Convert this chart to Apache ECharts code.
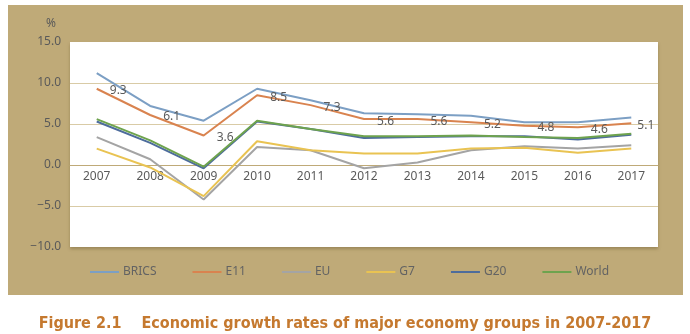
<!DOCTYPE html>
<html>
<head>
<meta charset="utf-8">
<script src="https://cdn.jsdelivr.net/npm/echarts@6/dist/echarts.min.js"></script>
<style>
  html, body { margin: 0; padding: 0; background: #ffffff; }
  #chart { width: 690px; height: 334px; }
</style>
</head>
<body>
<div id="chart"></div>
<script>
// Annual GDP growth (%) of major economy groups
const years = ['2007', '2008', '2009', '2010', '2011', '2012', '2013', '2014', '2015', '2016', '2017'];
const brics = [11.2, 7.2, 5.4, 9.3, 7.9, 6.3, 6.2, 6.0, 5.2, 5.2, 5.8];
const e11   = [9.3, 6.1, 3.6, 8.5, 7.3, 5.6, 5.6, 5.2, 4.8, 4.6, 5.1];
const eu    = [3.4, 0.7, -4.2, 2.2, 1.8, -0.4, 0.3, 1.8, 2.3, 2.0, 2.4];
const g7    = [2.0, -0.3, -3.8, 2.9, 1.8, 1.4, 1.4, 2.0, 2.1, 1.5, 2.0];
const g20   = [5.3, 2.7, -0.4, 5.3, 4.4, 3.3, 3.4, 3.5, 3.5, 3.1, 3.7];
const world = [5.6, 3.0, -0.2, 5.4, 4.4, 3.5, 3.5, 3.6, 3.4, 3.3, 3.8];
const yTicks = [-10, -5, 0, 5, 10, 15];

const TAN = '#bfaa78';
const GRID_LINE = '#d9cba6';
const TEXT = '#5a5a5a';
const FONT = "'Noto Sans', sans-serif";

const GRID_TOP = 42, GRID_BOTTOM = 87, CHART_H = 334;
const yMin = yTicks[0], yMax = yTicks[yTicks.length - 1];
// pixel distance from the bottom of the plot to the zero line
const zeroLift = (CHART_H - GRID_TOP - GRID_BOTTOM) * (0 - yMin) / (yMax - yMin);

const chart = echarts.init(document.getElementById('chart'), null, { renderer: 'canvas' });

function lineSeries(name, data, color, extra) {
  return Object.assign({
    name: name,
    type: 'line',
    data: data,
    symbol: 'none',
    lineStyle: { color: color, width: 2 },
    itemStyle: { color: color },
    emphasis: { disabled: true },
    animation: false
  }, extra || {});
}

// E11 values are printed beside each point
const e11Data = e11.map((v, i) => ({
  value: v,
  label: { distance: i === e11.length - 1 ? 6 : 13 }
}));

const option = {
  animation: false,
  graphic: [{
    type: 'rect',
    z: -10,
    silent: true,
    shape: { x: 8, y: 5, width: 675, height: 290 },
    style: { fill: TAN }
  }, {
    type: 'text',
    silent: true,
    x: 51,
    y: 24,
    style: { text: '%', fill: TEXT, font: "12px 'Noto Sans', sans-serif", align: 'center', verticalAlign: 'middle' }
  }],
  title: {
    text: 'Figure 2.1    Economic growth rates of major economy groups in 2007-2017',
    left: 'center',
    top: 311,
    textStyle: {
      color: '#c5792f',
      fontSize: 16,
      fontWeight: 'bold',
      fontFamily: "'Liberation Sans Narrow', 'DejaVu Sans Condensed', sans-serif"
    }
  },
  legend: {
    top: 261,
    left: 85,
    icon: 'rect',
    itemWidth: 29,
    itemHeight: 2,
    itemGap: 36,
    textStyle: { color: '#636363', fontSize: 12, fontFamily: FONT, padding: [0, 0, 0, -1] },
    data: ['BRICS', 'E11', 'EU', 'G7', 'G20', 'World']
  },
  grid: {
    left: 70,
    right: 32,
    top: GRID_TOP,
    bottom: GRID_BOTTOM,
    show: true,
    backgroundColor: '#ffffff',
    borderWidth: 0,
    shadowColor: 'rgba(90, 70, 30, 0.35)',
    shadowBlur: 3,
    shadowOffsetY: 2
  },
  xAxis: {
    type: 'category',
    data: years,
    boundaryGap: true,
    offset: -zeroLift,
    axisLine: { onZero: false, lineStyle: { color: TAN, width: 1 } },
    axisTick: { show: false },
    axisLabel: { color: TEXT, fontSize: 12, fontFamily: FONT, margin: 6 }
  },
  yAxis: {
    type: 'value',
    min: yMin,
    max: yMax,
    interval: 5,
    axisLine: { show: false },
    axisTick: { show: false },
    axisLabel: {
      color: TEXT, fontSize: 12, fontFamily: FONT, margin: 9,
      formatter: v => (v < 0 ? '\u2212' + Math.abs(v).toFixed(1) : v.toFixed(1))
    },
    splitLine: { show: true, showMinLine: false, showMaxLine: false, lineStyle: { color: GRID_LINE, width: 1 } }
  },
  series: [
    lineSeries('BRICS', brics, '#7c9fc4'),
    lineSeries('E11', e11Data, '#d9834f', {
      symbol: 'circle',
      symbolSize: 0.1,
      showSymbol: true,
      label: {
        show: true,
        position: 'right',
        offset: [0, 2],
        color: TEXT,
        fontSize: 12,
        fontFamily: FONT,
        formatter: p => p.value.toFixed(1)
      }
    }),
    lineSeries('EU', eu, '#a4a4a4'),
    lineSeries('G7', g7, '#e9c352'),
    lineSeries('G20', g20, '#4d6c9c'),
    lineSeries('World', world, '#6ea34e')
  ]
};

chart.setOption(option);
</script>
</body>
</html>
